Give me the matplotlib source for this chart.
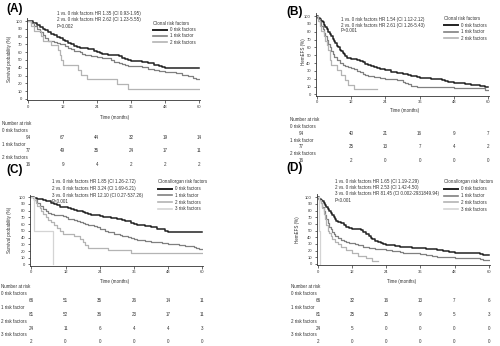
import matplotlib
matplotlib.use("Agg")
import matplotlib.pyplot as plt
import matplotlib.transforms as mtransforms
from matplotlib.lines import Line2D

plt.rcParams["font.family"] = ["Liberation Sans", "DejaVu Sans"]

# ---- data ----
xticks = [0, 12, 24, 36, 48, 60]

# (A) clonal risk factors - survival
a0_t = [0, 1.5, 3, 4, 5, 6, 7, 8, 9, 10, 11, 12, 13, 14, 15, 16, 17, 18, 20, 21, 23, 24, 25, 26, 28, 30, 32, 33, 34, 35, 36, 40, 42, 44, 46, 47, 48, 60]
a0_s = [100, 98, 95, 93, 90, 88, 86, 84, 82, 80, 78, 76, 74, 72, 70, 68, 67, 66, 65, 64, 62, 60, 59, 58, 57, 56, 55, 53, 51, 50, 49, 48, 46, 44, 42, 41, 40, 40]
a1_t = [0, 1, 2, 3, 4, 5, 6, 7, 8, 9, 10, 11, 12, 13, 14, 15, 16, 17, 18, 19, 20, 22, 24, 26, 28, 29, 30, 31, 32, 33, 34, 35, 40, 42, 44, 46, 48, 50, 52, 54, 56, 58, 59, 60]
a1_s = [100, 97, 94, 90, 86, 82, 78, 75, 74, 73, 72, 71, 70, 68, 66, 64, 62, 61, 60, 58, 57, 55, 54, 53, 52, 50, 48, 47, 46, 45, 44, 42, 41, 38, 37, 36, 35, 34, 33, 31, 30, 27, 26, 26]
a2_t = [0, 1, 2, 4.5, 5, 8, 10.5, 11, 11.5, 12, 17.5, 18.5, 20.5, 31, 35, 60]
a2_s = [100, 93.75, 87.5, 81.25, 75, 68.75, 62.5, 56.25, 50, 43.75, 37.5, 31.25, 25, 18.75, 12.5, 12.5]
a_risk0 = [94, 67, 44, 32, 19, 14]
a_risk1 = [77, 49, 35, 24, 17, 11]
a_risk2 = [16, 9, 4, 2, 2, 2]

# (B) clonal risk factors - HemEFS
b0_t = [0, 0.5, 1, 1.5, 2, 2.5, 3, 3.5, 4, 4.5, 5, 5.5, 6, 6.5, 7, 7.5, 8, 8.5, 9, 9.5, 10, 10.5, 11, 12, 14, 15, 16, 17, 18, 19, 20, 21, 22, 23, 24, 26, 27, 28, 30, 32, 33, 34, 35, 36, 40, 42, 44, 45, 46, 48, 50, 52, 54, 57, 59, 60]
b0_s = [100, 98, 96, 94, 92, 89, 86, 83, 80, 77, 74, 71, 68, 65, 62, 60, 57, 55, 53, 51, 49, 47, 46, 45, 44, 43, 41, 39, 38, 36, 35, 34, 33, 32, 31, 29, 28, 27, 26, 25, 24, 23, 22, 21, 20, 19, 18, 17, 16, 15, 14, 13, 12, 11, 10, 10]
b1_t = [0, 0.5, 1, 1.5, 2, 2.5, 3, 3.5, 4, 4.5, 5, 5.5, 6, 7, 8, 9, 10, 11, 12, 13, 14, 15, 16, 17, 18, 20, 22, 24, 26, 28, 30, 31, 32, 33, 35, 38, 46, 48, 58, 59, 60]
b1_s = [100, 96, 92, 87, 83, 78, 74, 69, 64, 60, 55, 51, 48, 44, 40, 37, 36, 35, 34, 32, 30, 28, 26, 25, 24, 22, 21, 20, 19, 18, 16, 14, 13, 11, 10, 9, 9, 8, 8, 5, 5]
b2_t = [0, 0.5, 1, 1.5, 2.5, 3, 3.5, 4, 4.5, 5, 7, 8.5, 10, 11, 13, 21]
b2_s = [100, 93.75, 87.5, 81.25, 75, 68.75, 62.5, 56.25, 43.75, 37.5, 31.25, 25, 18.75, 12.5, 6.25, 6.25]
b_risk0 = [94, 40, 21, 16, 9, 7]
b_risk1 = [77, 25, 13, 7, 4, 2]
b_risk2 = [16, 2, 0, 0, 0, 0]

# (C) clonal/organ risk factors - survival
c0_t = [0, 1, 2, 3, 4, 5, 6, 7, 8, 9, 10, 12, 13, 14, 15, 16, 17, 18, 19, 20, 21, 22, 24, 25, 26, 28, 30, 32, 33, 34, 35, 36, 37, 40, 42, 43, 44, 46, 47, 48, 60]
c0_s = [100, 99, 98, 97, 96, 95, 94, 92, 90, 88, 86, 85, 84, 83, 81, 80, 79, 78, 76, 75, 74, 73, 72, 71, 70, 69, 68, 66, 65, 64, 62, 60, 58, 57, 56, 55, 53, 52, 50, 48, 48]
c1_t = [0, 1, 2, 3, 4, 5, 6, 7, 8, 10, 11, 12, 13, 14, 15, 16, 17, 18, 19, 20, 21, 22, 23, 24, 25, 26, 27, 28, 29, 30, 31, 32, 33, 34, 35, 36, 37, 38, 40, 42, 44, 46, 48, 50, 52, 54, 56, 57, 58, 59, 60]
c1_s = [100, 96, 92, 87, 83, 79, 76, 75, 74, 73, 72, 70, 68, 67, 66, 64, 63, 62, 60, 59, 58, 57, 55, 53, 52, 50, 49, 48, 46, 45, 44, 43, 42, 41, 40, 38, 37, 36, 35, 34, 33, 32, 31, 30, 29, 28, 27, 26, 24, 23, 23]
c2_t = [0, 1, 1.5, 2, 3, 3.5, 4, 5, 6, 7, 8, 9, 10, 11, 15, 17, 18, 19, 20, 27, 35, 60]
c2_s = [100, 95.8, 91.7, 87.5, 83.3, 79.2, 75, 70.8, 66.7, 62.5, 58.3, 54.2, 50, 45.8, 41.7, 37.5, 33.3, 29.2, 25, 20.8, 16.7, 16.7]
c3_t = [0, 1, 7.5]
c3_s = [100, 50, 0]
c_risk0 = [66, 51, 35, 26, 14, 11]
c_risk1 = [81, 52, 36, 23, 17, 11]
c_risk2 = [24, 11, 6, 4, 4, 3]
c_risk3 = [2, 0, 0, 0, 0, 0]

# (D) clonal/organ risk factors - HemEFS
d0_t = [0, 0.5, 1, 1.5, 2, 2.5, 3, 3.5, 4, 4.5, 5, 5.5, 6, 6.5, 7, 8, 9, 9.5, 10, 11, 12, 13, 15, 16, 17, 18, 18.5, 19, 20, 21, 22, 23, 24, 25, 27, 29, 31, 33, 38, 40, 42, 44, 45, 46, 48, 50, 57, 58, 59, 60]
d0_s = [100, 98, 96, 94, 91, 88, 85, 82, 79, 76, 73, 70, 67, 65, 63, 61, 59, 58, 56, 54, 53, 52, 51, 48, 45, 42, 39, 37, 35, 33, 31, 30, 29, 28, 27, 26, 25, 24, 23, 22, 21, 20, 19, 18, 17, 16, 15, 14, 13, 13]
d1_t = [0, 0.5, 1, 1.5, 2, 2.5, 3, 3.5, 4, 4.5, 5, 5.5, 6, 7, 8, 9, 10, 11, 12, 13, 14, 15, 16, 17, 18, 20, 22, 24, 26, 28, 29, 30, 34, 36, 38, 40, 42, 44, 48, 56, 57, 58, 60]
d1_s = [100, 96, 91, 85, 79, 73, 67, 61, 56, 52, 48, 45, 42, 39, 36, 34, 33, 32, 31, 30, 29, 28, 26, 25, 24, 23, 22, 21, 20, 19, 18, 17, 16, 15, 14, 12, 11, 10, 9, 9, 7, 6, 6]
d2_t = [0, 0.5, 1, 1.5, 2, 2.5, 3, 3.5, 4, 4.5, 5, 6, 7, 8, 10, 12, 14, 17, 19, 21]
d2_s = [100, 95.8, 91.7, 83.3, 75, 66.7, 58.3, 50, 45.8, 41.7, 37.5, 33.3, 29.2, 25, 20.8, 16.7, 12.5, 8.3, 4.2, 4.2]
d3_t = [0, 0.3, 0.6]
d3_s = [100, 50, 0]
d_risk0 = [66, 32, 16, 13, 7, 6]
d_risk1 = [81, 25, 15, 9, 5, 3]
d_risk2 = [24, 5, 0, 0, 0, 0]
d_risk3 = [2, 0, 0, 0, 0, 0]

groups3 = ["0 risk factors", "1 risk factor", "2 risk factors"]
groups4 = ["0 risk factors", "1 risk factor", "2 risk factors", "3 risk factors"]
colors = ["#222222", "#808080", "#b4b4b4", "#d4d4d4"]
widths = [1.1, 0.9, 0.9, 0.9]
tc = "#333333"
fs = 3.25

W, H = 500, 346
fig = plt.figure(figsize=(W / 100, H / 100), dpi=100)


def px(x, y):
    return x / W, 1 - y / H


def make_axes(l, t, r, b):
    ax = fig.add_axes([l / W, 1 - b / H, (r - l) / W, (b - t) / H])
    ax.set_xlim(-0.5, 60.3)
    ax.set_ylim(-1.5, 104)
    ax.set_xticks(xticks)
    ax.set_yticks(range(0, 101, 10))
    ax.tick_params(labelsize=3.0, length=1.8, width=0.5, pad=1.5, colors=tc)
    for s in ["top", "right"]:
        ax.spines[s].set_visible(False)
    for s in ["left", "bottom"]:
        ax.spines[s].set_linewidth(0.6)
        ax.spines[s].set_color(tc)
    return ax


def text(x, y, s, **kw):
    fig.text(*px(x, y), s, fontsize=kw.pop("fontsize", fs), color=kw.pop("color", tc),
             va=kw.pop("va", "center"), **kw)


def legend(x, y, title, labels, step):
    text(x, y, title)
    for i, lab in enumerate(labels):
        yy = y + step * (i + 1)
        fig.add_artist(Line2D([x / W, (x + 14) / W], [1 - yy / H, 1 - yy / H],
                              transform=fig.transFigure, color=colors[i], lw=widths[i] + 0.3))
        text(x + 17, yy, lab)


def risk_table(ax, x_lab, y0, step, labels, rows, first_shift=0):
    trans = mtransforms.blended_transform_factory(ax.transData, fig.transFigure)
    text(x_lab, y0, "Number at risk")
    for i, (lab, row) in enumerate(zip(labels, rows)):
        yl = y0 + step * (2 * i + 1)
        yn = y0 + step * (2 * i + 2)
        text(x_lab, yl, lab)
        for j, (t, n) in enumerate(zip(xticks, row)):
            xx = t + (first_shift if j == 0 else 0)
            ax.text(xx, 1 - yn / H, str(n), transform=trans, fontsize=fs, color=tc,
                    ha="center", va="center")


# ---- (A) ----
ax = make_axes(27, 18, 200, 100)
for i, (t, s) in enumerate([(a0_t, a0_s), (a1_t, a1_s), (a2_t, a2_s)]):
    ax.step(t, s, where="post", color=colors[i], lw=widths[i])
text(6, 9, "(A)", fontsize=8.5, fontweight="bold", color="black")
text(10, 59, "Survival probability (%)", rotation=90, ha="center")
text(57, 14, "1 vs. 0 risk factors HR 1.35 (CI 0.93-1.95)")
text(57, 20, "2 vs. 0 risk factors HR 2.62 (CI 1.23-5.55)")
text(57, 26, "P=0.002")
legend(153, 23.3, "Clonal risk factors", groups3, 6.3)
text(115, 117, "Time (months)", ha="center")
risk_table(ax, 2, 124, 6.7, groups3, [a_risk0, a_risk1, a_risk2])

# ---- (B) ----
ax = make_axes(315.5, 13, 489, 95.5)
for i, (t, s) in enumerate([(b0_t, b0_s), (b1_t, b1_s), (b2_t, b2_s)]):
    ax.step(t, s, where="post", color=colors[i], lw=widths[i])
text(286, 12, "(B)", fontsize=8.5, fontweight="bold", color="black")
text(304, 52, "HemEFS (%)", rotation=90, ha="center")
text(341, 19, "1 vs. 0 risk factors HR 1.54 (CI 1.12-2.12)")
text(341, 25, "2 vs. 0 risk factors HR 2.61 (CI 1.26-5.43)")
text(341, 31, "P=0.001")
legend(444, 19, "Clonal risk factors", groups3, 6.4)
text(405, 111, "Time (months)", ha="center")
risk_table(ax, 290, 119.3, 6.9, groups3, [b_risk0, b_risk1, b_risk2], first_shift=-5.5)

# ---- (C) ----
ax = make_axes(30, 194.5, 203, 265.5)
for i, (t, s) in enumerate([(c0_t, c0_s), (c1_t, c1_s), (c2_t, c2_s), (c3_t, c3_s)]):
    ax.step(t, s, where="post", color=colors[i], lw=widths[i])
text(6, 170, "(C)", fontsize=8.5, fontweight="bold", color="black")
text(10, 230, "Survival probability (%)", rotation=90, ha="center")
text(52, 182, "1 vs. 0 risk factors HR 1.85 (CI 1.26-2.72)")
text(52, 188.6, "2 vs. 0 risk factors HR 3.24 (CI 1.69-6.21)")
text(52, 195.2, "3 vs. 0 risk factors HR 12.10 (CI 0.27-537.26)")
text(52, 201.8, "P<0.001")
legend(158, 182, "Clonal/organ risk factors", groups4, 6.7)
text(115, 281, "Time (months)", ha="center")
risk_table(ax, 1, 286.7, 6.9, groups4, [c_risk0, c_risk1, c_risk2, c_risk3])

# ---- (D) ----
ax = make_axes(316.5, 194.5, 489.5, 265)
for i, (t, s) in enumerate([(d0_t, d0_s), (d1_t, d1_s), (d2_t, d2_s), (d3_t, d3_s)]):
    ax.step(t, s, where="post", color=colors[i], lw=widths[i])
text(286, 168, "(D)", fontsize=8.5, fontweight="bold", color="black")
text(297, 230, "HemEFS (%)", rotation=90, ha="center")
text(335, 181, "1 vs. 0 risk factors HR 1.65 (CI 1.19-2.29)")
text(335, 187.5, "2 vs. 0 risk factors HR 2.53 (CI 1.42-4.50)")
text(335, 194, "3 vs. 0 risk factors HR 81.45 (CI 0.002-2931849.94)")
text(335, 200.5, "P<0.001")
legend(444, 182, "Clonal/organ risk factors", groups4, 6.8)
text(402, 281, "Time (months)", ha="center")
risk_table(ax, 291, 286.7, 6.9, groups4, [d_risk0, d_risk1, d_risk2, d_risk3])

fig.savefig("out.png", dpi=100)
